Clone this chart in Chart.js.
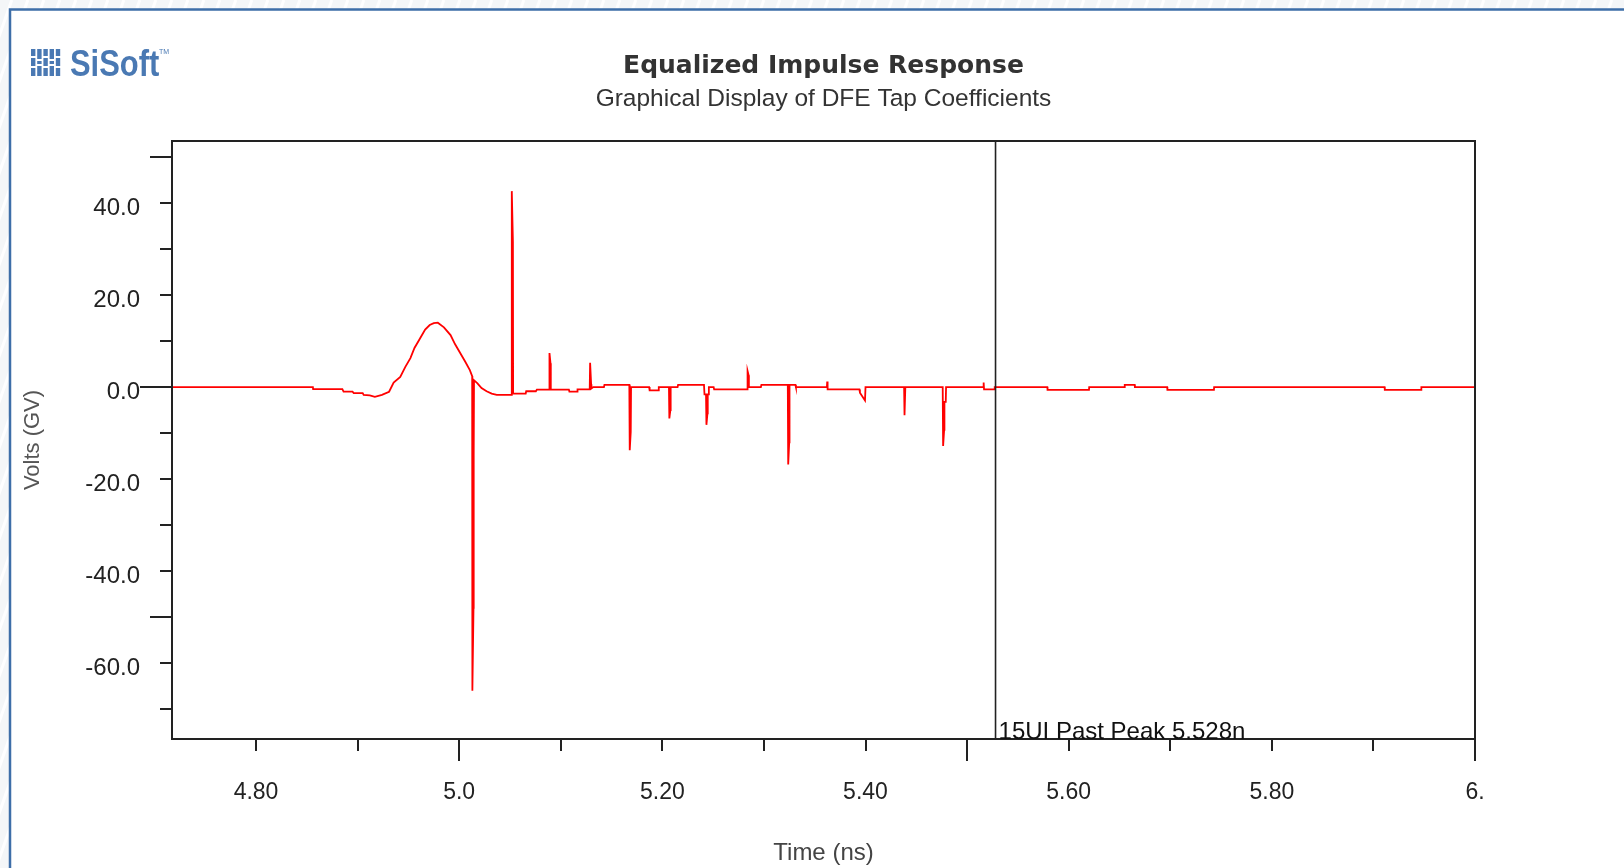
<!DOCTYPE html>
<html>
<head>
<meta charset="utf-8">
<title>Equalized Impulse Response</title>
<script src="https://cdn.jsdelivr.net/npm/chart.js@4.4.1/dist/chart.umd.min.js"></script>
<style>
  html, body { margin: 0; padding: 0; background: #fff; }
  #wrap { width: 1624px; height: 868px; }
</style>
</head>
<body>
<div id="wrap"><canvas id="impulse" width="1624" height="868"></canvas></div>
<script>
// Equalized impulse response, time in ns, amplitude in GV.
// Pre-cursor dip and main lobe
const lobeTimes = [
  4.7173, 4.856, 4.8562, 4.885, 4.8862, 4.895, 4.8962, 4.905, 4.906, 4.912,
  4.917, 4.924, 4.931, 4.9355, 4.942, 4.947, 4.952, 4.956, 4.961, 4.9665,
  4.971, 4.975, 4.979, 4.985, 4.9915, 4.996, 5.001, 5.006, 5.0105, 5.0128
];
const lobeVolts = [
  0, 0, -0.45, -0.45, -1.0, -1.0, -1.3, -1.3, -1.7, -1.8,
  -2.1, -1.7, -1.0, 1.0, 2.2, 4.4, 6.3, 8.5, 10.4, 12.5,
  13.5, 13.9, 14.0, 13.0, 11.3, 9.3, 7.4, 5.5, 3.7, 2.4
];

// Cursor and first post-cursor spikes
const cursorTimes = [
  5.0130, 5.0141, 5.0143, 5.0146, 5.018, 5.022, 5.027, 5.032, 5.037, 5.0515,
  5.0518, 5.0529, 5.0531, 5.0655, 5.066, 5.0755, 5.0765, 5.0885, 5.0889, 5.0899,
  5.0902, 5.108, 5.1085, 5.116, 5.1165, 5.1285, 5.1289, 5.1299, 5.1302, 5.132,
  5.1425, 5.143, 5.1675
];
const cursorVolts = [
  -66, -48, -15, 1.5, 0.8, -0.2, -0.9, -1.4, -1.7, -1.7,
  42.6, 31.6, -1.4, -1.4, -0.9, -0.9, -0.55, -0.55, 7.4, 5.2,
  -0.55, -0.55, -1.0, -1.0, -0.5, -0.5, 5.3, 0.6, -0.3, 0,
  0, 0.5, 0.5
];

// DFE tap positions up to the 15UI marker
const tapTimes = [
  5.1679, 5.1689, 5.1692, 5.187, 5.1875, 5.196, 5.1965, 5.2065,
  5.2069, 5.2079, 5.2082, 5.215, 5.2155, 5.241, 5.2415, 5.243,
  5.2434, 5.2444, 5.2447, 5.2455, 5.2458, 5.2505, 5.251, 5.2835,
  5.2839, 5.2849, 5.2852, 5.297, 5.2975, 5.3235, 5.3239, 5.3249, 5.3252,
  5.331, 5.3315, 5.362, 5.3623, 5.3627, 5.394, 5.3945, 5.3995, 5.4,
  5.438, 5.4384, 5.4392, 5.476, 5.4764, 5.4774, 5.4777, 5.479, 5.4793,
  5.516, 5.5163, 5.5167, 5.527, 5.5272
];
const tapVolts = [
  -13.7, -9.7, 0, 0, -0.7, -0.7, 0, 0,
  -6.8, -5.0, 0, 0, 0.5, 0.5, -1.6, -1.6,
  -8.2, -5.7, -1.6, -1.6, 0, 0, -0.5, -0.5,
  3.5, 2.6, 0, 0, 0.5, 0.5, -16.8, -12.0, 0.5,
  0.5, 0, 0, 1.2, -0.5, -0.5, -1.2, -2.9, 0,
  0, -6.1, 0, 0, -12.8, -9.3, -3.2, -3.2, 0,
  0, 1.0, -0.5, -0.5, 0
];

// Residual tail
const tailTimes = [
  5.579, 5.5792, 5.620, 5.6202, 5.655, 5.6552, 5.665, 5.6652, 5.697,
  5.6972, 5.743, 5.7432, 5.911, 5.9112, 5.947, 5.9472, 6.0
];
const tailVolts = [
  0, -0.6, -0.6, 0, 0, 0.5, 0.5, 0, 0,
  -0.6, -0.6, 0, 0, -0.6, -0.6, 0, 0
];

// Axes
const xMin = 4.7173;
const xMax = 6.0;
const xTickValues = [4.8, 4.9, 5.0, 5.1, 5.2, 5.3, 5.4, 5.5, 5.6, 5.7, 5.8, 5.9, 6.0];
const xTickLabels = ['4.80', '', '5.0', '', '5.20', '', '5.40', '', '5.60', '', '5.80', '', '6.'];
const xLongTicks = [5.0, 5.5, 6.0];

const yMin = -76.5;
const yMax = 53.5;
const yTickValues = [50, 40, 30, 20, 10, 0, -10, -20, -30, -40, -50, -60, -70];
const yTickLabels = ['', '40.0', '', '20.0', '', '0.0', '', '-20.0', '', '-40.0', '', '-60.0', ''];
const yLongTicks = [50, -50];

const markerTime = 5.528;
const markerLabel = '15UI Past Peak 5.528n';

const times = [...lobeTimes, ...cursorTimes, ...tapTimes, ...tailTimes];
const volts = [...lobeVolts, ...cursorVolts, ...tapVolts, ...tailVolts];
const points = times.map((t, i) => ({ x: t, y: volts[i] }));

const labelFont = '"Liberation Sans", Arial, sans-serif';

// panel background, plot frame, ticks, 15UI marker and logo
const sisoftDecor = {
    id: 'sisoftDecor',
    beforeDraw(chart) {
        const { ctx, width, height } = chart;
        ctx.save();
        ctx.fillStyle = '#f4f6f8';
        ctx.fillRect(0, 0, width, height);
        ctx.strokeStyle = 'rgba(255,255,255,0.9)';
        ctx.lineWidth = 3;
        for (let k = -height; k < width; k += 16) {
            ctx.beginPath();
            ctx.moveTo(k, height);
            ctx.lineTo(k + height * 0.35, 0);
            ctx.stroke();
        }
        ctx.fillStyle = '#ffffff';
        ctx.fillRect(10, 10, width - 10, height - 10);
        ctx.strokeStyle = '#3d6ea8';
        ctx.lineWidth = 2.5;
        ctx.beginPath();
        ctx.moveTo(10, height);
        ctx.lineTo(10, 9.5);
        ctx.lineTo(width, 9.5);
        ctx.stroke();
        ctx.restore();
    },
    afterDatasetsDraw(chart) {
        const { ctx, chartArea: a, scales: { x, y } } = chart;
        ctx.save();
        ctx.strokeStyle = '#222';
        ctx.lineWidth = 2;
        ctx.strokeRect(a.left, a.top, a.right - a.left, a.bottom - a.top);

        ctx.beginPath();
        xTickValues.forEach(v => {
            const px = Math.round(x.getPixelForValue(v));
            const len = xLongTicks.includes(v) ? 22 : 12;
            ctx.moveTo(px, a.bottom);
            ctx.lineTo(px, a.bottom + len);
        });
        yTickValues.forEach(v => {
            const py = Math.round(y.getPixelForValue(v));
            const len = v === 0 ? 32 : (yLongTicks.includes(v) ? 22 : 12);
            ctx.moveTo(a.left, py);
            ctx.lineTo(a.left - len, py);
        });
        ctx.stroke();

        const mx = x.getPixelForValue(markerTime);
        ctx.lineWidth = 1.6;
        ctx.beginPath();
        ctx.moveTo(mx, a.top);
        ctx.lineTo(mx, a.bottom);
        ctx.stroke();
        ctx.fillStyle = '#111';
        ctx.font = '24px ' + labelFont;
        ctx.textAlign = 'left';
        ctx.textBaseline = 'alphabetic';
        ctx.fillText(markerLabel, mx + 3, a.bottom - 0.5);
        ctx.restore();
    },
    afterDraw(chart) {
        const { ctx } = chart;
        ctx.save();
        ctx.filter = 'blur(0.6px)';
        ctx.fillStyle = '#4a79b3';
        // bar mark of the logo
        for (let i = 0; i < 5; i++) {
            const bx = 31 + i * 6.2;
            const g1 = 56 + (i % 2) * 3;
            const g2 = 66 - (i % 2) * 2;
            ctx.fillRect(bx, 49, 4.4, g1 - 49);
            ctx.fillRect(bx, g1 + 2, 4.4, g2 - g1 - 2);
            ctx.fillRect(bx, g2 + 2, 4.4, 76 - g2 - 2);
        }
        ctx.translate(70, 76);
        ctx.scale(1.03, 1.22);
        ctx.font = 'bold 30px ' + labelFont;
        ctx.textBaseline = 'alphabetic';
        ctx.fillText('SiSoft', 0, 0);
        ctx.setTransform(1, 0, 0, 1, 0, 0);
        ctx.font = '7px ' + labelFont;
        ctx.fillText('TM', 159, 54);
        ctx.restore();
    }
};

new Chart(document.getElementById('impulse').getContext('2d'), {
    type: 'line',
    data: {
        datasets: [{
            label: 'Equalized Impulse Response',
            data: points,
            borderColor: '#ff0000',
            borderWidth: 1.8,
            pointRadius: 0,
            tension: 0,
            fill: false
        }]
    },
    options: {
        responsive: false,
        animation: false,
        events: [],
        layout: { padding: { left: 10, top: 10, right: 149, bottom: 0 } },
        plugins: {
            legend: { display: false },
            tooltip: { enabled: false },
            title: {
                display: true,
                text: 'Equalized Impulse Response',
                fullSize: false,
                color: '#333',
                font: { family: 'DejaVu Sans', size: 25, weight: 'bold', lineHeight: 1.2 },
                padding: { top: 41.5, bottom: 0 }
            },
            subtitle: {
                display: true,
                text: 'Graphical Display of DFE Tap Coefficients',
                fullSize: false,
                color: '#333',
                font: { family: 'Liberation Sans', size: 24.5, lineHeight: 1.2 },
                padding: { top: 3.5, bottom: 26.6 }
            }
        },
        scales: {
            x: {
                type: 'linear',
                min: xMin,
                max: xMax,
                afterBuildTicks: axis => { axis.ticks = xTickValues.map(v => ({ value: v })); },
                afterFit: axis => { axis.height = 129; },
                grid: { display: false, drawTicks: false },
                border: { display: false },
                ticks: {
                    autoSkip: false,
                    maxRotation: 0,
                    padding: 40,
                    color: '#222',
                    font: { family: 'Liberation Sans', size: 23 },
                    callback: (value, index) => xTickLabels[index]
                },
                title: {
                    display: true,
                    text: 'Time (ns)',
                    color: '#444',
                    font: { family: 'Liberation Sans', size: 24 },
                    padding: { top: 0, bottom: 0 }
                }
            },
            y: {
                min: yMin,
                max: yMax,
                afterBuildTicks: axis => { axis.ticks = yTickValues.map(v => ({ value: v })); },
                afterFit: axis => { axis.width = 162; },
                grid: { display: false, drawTicks: false },
                border: { display: false },
                ticks: {
                    autoSkip: false,
                    padding: 32,
                    labelOffset: 5,
                    color: '#222',
                    font: { family: 'Liberation Sans', size: 24 },
                    callback: (value, index) => yTickLabels[index]
                },
                title: {
                    display: true,
                    text: 'Volts (GV)',
                    color: '#555',
                    font: { family: 'Liberation Sans', size: 22 },
                    padding: { top: 10, bottom: 0 }
                }
            }
        }
    },
    plugins: [sisoftDecor]
});
</script>
</body>
</html>
